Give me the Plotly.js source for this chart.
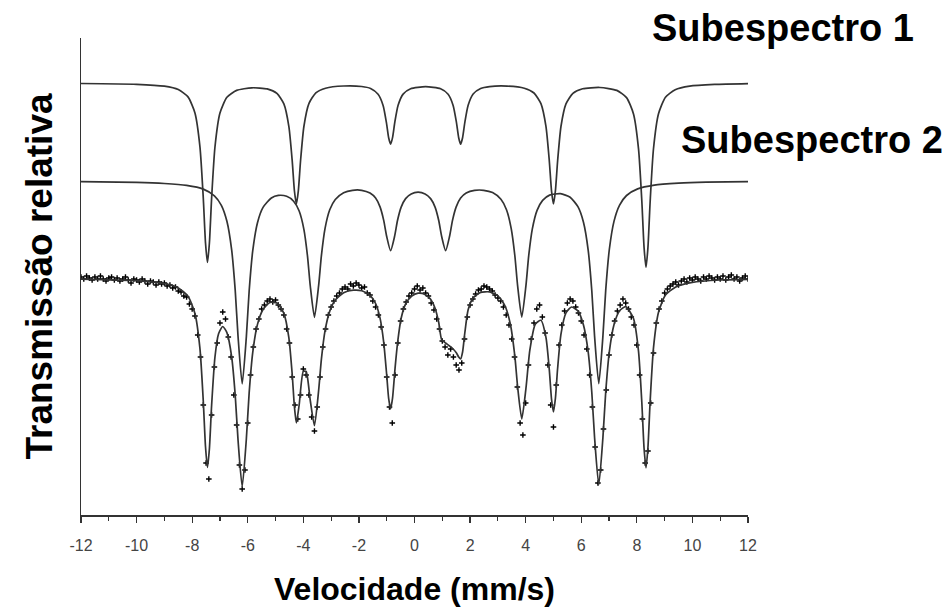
<!DOCTYPE html>
<html>
<head>
<meta charset="utf-8">
<script src="https://cdn.plot.ly/plotly-3.0.1.min.js"></script>
<style>html,body{margin:0;padding:0;background:#fff;}#chart{width:952px;height:613px;}</style>
</head>
<body>
<div id="chart"></div>
<script>
// Velocity tick labels (mm/s)
const tickVals = [-12, -10, -8, -6, -4, -2, 0, 2, 4, 6, 8, 10, 12];
const tickText = ["-12", "-10", "-8", "-6", "-4", "-2", "0", "2", "4", "6", "8", "10", "12"];
const minorTickVals = [-11, -9, -7, -5, -3, -1, 1, 3, 5, 7, 9, 11];

// Subespectro 1 (fitted sextet, offset upward)
const sub1X = [-12, -10, -9, -8.5, -8.15, -7.9, -7.72, -7.6, -7.52, -7.45, -7.38, -7.3, -7.18, -7.0, -6.75, -6.4, -5.85, -5.3, -4.95, -4.7, -4.52, -4.4, -4.32, -4.25, -4.18, -4.1, -3.98, -3.8, -3.55, -3.2, -2.55, -1.9, -1.58, -1.31, -1.13, -1.01, -0.93, -0.86, -0.79, -0.71, -0.59, -0.41, -0.14, 0.4, 0.94, 1.21, 1.39, 1.51, 1.59, 1.66, 1.73, 1.81, 1.93, 2.11, 2.38, 2.7, 3.33, 3.95, 4.3, 4.55, 4.73, 4.85, 4.93, 5.0, 5.07, 5.15, 5.27, 5.45, 5.7, 6.05, 6.67, 7.28, 7.63, 7.88, 8.06, 8.18, 8.26, 8.33, 8.4, 8.48, 8.6, 8.78, 9.03, 9.38, 9.9, 10.8, 12];
const sub1Y = [431.5, 430.7, 428.8, 425.4, 418.1, 402.1, 368.2, 317, 272, 252.5, 272, 316.9, 368, 401.9, 417.7, 424.6, 427.2, 426.1, 421.6, 411.1, 388.4, 354.1, 324, 311, 324.1, 354.2, 388.5, 411.4, 422.1, 426.8, 429, 428.5, 426.5, 420.7, 409.5, 392.3, 377.2, 370.9, 377.4, 392.5, 409.7, 420.9, 426.3, 428.4, 426.3, 420.8, 409.6, 392.4, 377.3, 370.8, 377.3, 392.4, 409.7, 421, 426.5, 428.4, 428.9, 426.8, 422, 411.3, 388.6, 354.3, 324.2, 311, 324.1, 354.2, 388.5, 411.1, 421.7, 426.2, 427.5, 424.6, 417.4, 401.1, 366.4, 313.7, 267.6, 247.5, 267.6, 313.8, 366.5, 401.2, 417.8, 425.3, 428.9, 430.6, 431.4];

// Subespectro 2 (fitted sextet, middle)
const sub2X = [-12, -10, -9, -8.2, -7.6, -7.2, -6.95, -6.75, -6.58, -6.45, -6.35, -6.2, -6.05, -5.95, -5.82, -5.65, -5.45, -5.15, -4.9, -4.6, -4.35, -4.15, -3.98, -3.85, -3.75, -3.6, -3.45, -3.35, -3.22, -3.05, -2.85, -2.55, -2.23, -1.9, -1.6, -1.4, -1.24, -1.11, -1.0, -0.86, -0.72, -0.61, -0.48, -0.32, -0.12, 0.13, 0.38, 0.58, 0.74, 0.87, 0.98, 1.12, 1.26, 1.37, 1.5, 1.66, 1.86, 2.16, 2.49, 2.81, 3.11, 3.31, 3.48, 3.61, 3.71, 3.86, 4.01, 4.11, 4.24, 4.41, 4.61, 4.86, 5.25, 5.6, 5.88, 6.08, 6.25, 6.38, 6.48, 6.63, 6.78, 6.88, 7.01, 7.18, 7.38, 7.63, 8.03, 8.63, 9.5, 10.5, 12];
const sub2Y = [333.3, 332.6, 331.5, 329.6, 325.9, 319.2, 309.7, 293.7, 265.3, 224.4, 178.9, 131.1, 178.4, 223.8, 264.3, 292.3, 307.6, 317, 319.6, 318.7, 313.8, 304, 285.7, 258.9, 229, 197.7, 229.3, 259.3, 286.4, 305.2, 315.5, 322.3, 324.7, 324.7, 321.9, 316.9, 308.1, 294.9, 278.5, 264.3, 278.2, 294.7, 307.9, 316.4, 321.1, 322.8, 321.1, 316.4, 307.9, 294.7, 278.2, 264.3, 278.5, 294.9, 308.1, 316.9, 321.9, 324.6, 324.7, 322.4, 315.7, 305.3, 286.4, 259.5, 229.4, 197.9, 229.4, 259.4, 286.1, 304.6, 314.6, 319.9, 321.3, 317.8, 308.3, 292.8, 264.7, 224, 178.6, 131.4, 179.1, 224.6, 265.5, 293.9, 309.9, 319.5, 326.1, 329.9, 331.8, 332.8, 333.3];

// Total fitted spectrum (bottom)
const fitX = [-12, -10, -9, -8.5, -8.15, -7.9, -7.72, -7.6, -7.52, -7.45, -7.38, -7.3, -7.18, -7.05, -6.9, -6.75, -6.58, -6.45, -6.35, -6.2, -6.05, -5.95, -5.82, -5.65, -5.45, -5.2, -4.95, -4.7, -4.52, -4.4, -4.32, -4.25, -4.15, -4.0, -3.9, -3.75, -3.6, -3.45, -3.35, -3.22, -3.05, -2.85, -2.55, -2.2, -1.9, -1.6, -1.4, -1.24, -1.11, -1.0, -0.93, -0.86, -0.79, -0.7, -0.6, -0.48, -0.32, -0.1, 0.13, 0.38, 0.58, 0.74, 0.87, 0.98, 1.12, 1.26, 1.39, 1.51, 1.59, 1.66, 1.73, 1.81, 1.93, 2.11, 2.38, 2.7, 3.0, 3.25, 3.45, 3.61, 3.71, 3.86, 4.01, 4.15, 4.35, 4.55, 4.73, 4.85, 4.93, 5.0, 5.07, 5.15, 5.27, 5.45, 5.65, 5.88, 6.08, 6.25, 6.38, 6.48, 6.63, 6.78, 6.88, 7.01, 7.18, 7.38, 7.6, 7.88, 8.06, 8.18, 8.26, 8.33, 8.4, 8.48, 8.6, 8.78, 9.03, 9.4, 10, 11, 12];
const fitY = [235.9, 234.3, 231.3, 227.1, 218.7, 201.5, 166.4, 113.9, 68.2, 47.6, 66.3, 109.7, 158, 181.3, 188.5, 182.4, 158.4, 119.5, 75.1, 28.3, 76.2, 121.9, 162.6, 190.6, 205.5, 212.5, 212, 201.7, 177.2, 140.5, 107.9, 92, 110, 143.7, 143.5, 114.5, 89.4, 124.3, 155.8, 184.1, 203.9, 215, 222.3, 224.8, 224.2, 219.6, 211.5, 196.9, 173.2, 139.9, 116.7, 106.2, 116.9, 146.7, 174.3, 196.8, 211, 218.8, 221.8, 220.6, 215.7, 206.7, 192.7, 175.1, 172, 169, 166, 162, 158, 156, 163, 182, 205.2, 217.1, 222.6, 223.1, 219.2, 209.5, 190.8, 158.9, 128.4, 96.1, 126.6, 164.9, 191.1, 194.7, 177.6, 145.3, 115.9, 103.1, 116.6, 146.7, 180.8, 202.1, 208, 204.1, 190, 162.9, 122.5, 77.3, 30, 77.6, 122.9, 163.2, 190.5, 204.2, 208.3, 196.5, 163.9, 112.3, 66.7, 47.1, 67.7, 114.2, 167.4, 202.7, 219.9, 228.1, 232.7, 235, 235.7];

// Measured spectrum (data points)
const dataX = [-12.0, -11.9, -11.8, -11.7, -11.6, -11.5, -11.4, -11.3, -11.2, -11.1, -11.0, -10.9, -10.8, -10.7, -10.6, -10.5, -10.4, -10.3, -10.2, -10.1, -10.0, -9.9, -9.8, -9.7, -9.6, -9.5, -9.4, -9.3, -9.2, -9.1, -9.0, -8.9, -8.8, -8.7, -8.6, -8.5, -8.4, -8.3, -8.2, -8.1, -8.0, -7.9, -7.8, -7.7, -7.6, -7.5, -7.4, -7.3, -7.2, -7.1, -7.0, -6.9, -6.8, -6.7, -6.6, -6.5, -6.4, -6.3, -6.2, -6.1, -6.0, -5.9, -5.8, -5.7, -5.6, -5.5, -5.4, -5.3, -5.2, -5.1, -5.0, -4.9, -4.8, -4.7, -4.6, -4.5, -4.4, -4.3, -4.2, -4.1, -4.0, -3.9, -3.8, -3.7, -3.6, -3.5, -3.4, -3.3, -3.2, -3.1, -3.0, -2.9, -2.8, -2.7, -2.6, -2.5, -2.4, -2.3, -2.2, -2.1, -2.0, -1.9, -1.8, -1.7, -1.6, -1.5, -1.4, -1.3, -1.2, -1.1, -1.0, -0.9, -0.8, -0.7, -0.6, -0.5, -0.4, -0.3, -0.2, -0.1, 0.0, 0.1, 0.2, 0.3, 0.4, 0.5, 0.6, 0.7, 0.8, 0.9, 1.0, 1.1, 1.2, 1.3, 1.4, 1.5, 1.6, 1.7, 1.8, 1.9, 2.0, 2.1, 2.2, 2.3, 2.4, 2.5, 2.6, 2.7, 2.8, 2.9, 3.0, 3.1, 3.2, 3.3, 3.4, 3.5, 3.6, 3.7, 3.8, 3.9, 4.0, 4.1, 4.2, 4.3, 4.4, 4.5, 4.6, 4.7, 4.8, 4.9, 5.0, 5.1, 5.2, 5.3, 5.4, 5.5, 5.6, 5.7, 5.8, 5.9, 6.0, 6.1, 6.2, 6.3, 6.4, 6.5, 6.6, 6.7, 6.8, 6.9, 7.0, 7.1, 7.2, 7.3, 7.4, 7.5, 7.6, 7.7, 7.8, 7.9, 8.0, 8.1, 8.2, 8.3, 8.4, 8.5, 8.6, 8.7, 8.8, 8.9, 9.0, 9.1, 9.2, 9.3, 9.4, 9.5, 9.6, 9.7, 9.8, 9.9, 10.0, 10.1, 10.2, 10.3, 10.4, 10.5, 10.6, 10.7, 10.8, 10.9, 11.0, 11.1, 11.2, 11.3, 11.4, 11.5, 11.6, 11.7, 11.8, 11.9, 12.0];
const dataY = [238, 236, 239, 237, 235, 238, 236, 239, 236, 234, 237, 238, 235, 237, 234, 236, 238, 235, 232, 236, 235, 233, 236, 234, 231, 234, 233, 230, 233, 231, 232, 229, 230, 227, 228, 224, 223, 219, 218, 211, 206, 199, 180, 158, 110, 52, 36, 100, 148, 172, 192, 203, 196, 178, 158, 120, 90, 50, 26, 45, 92, 140, 168, 186, 196, 206, 210, 214, 216, 213, 215, 210, 206, 200, 186, 172, 138, 110, 96, 120, 146, 140, 120, 98, 84, 108, 138, 168, 186, 200, 208, 214, 219, 222, 226, 228, 226, 231, 229, 232, 230, 227, 228, 222, 220, 214, 208, 200, 188, 170, 138, 108, 92, 140, 172, 194, 206, 213, 219, 222, 226, 229, 225, 227, 222, 219, 212, 205, 196, 186, 174, 168, 160, 166, 158, 150, 145, 152, 176, 198, 210, 216, 221, 225, 226, 229, 228, 226, 224, 220, 217, 214, 208, 200, 190, 176, 158, 128, 92, 80, 112, 150, 176, 192, 206, 210, 198, 182, 150, 110, 88, 130, 170, 190, 204, 212, 216, 214, 208, 202, 194, 180, 166, 140, 108, 68, 32, 45, 86, 125, 160, 180, 194, 204, 210, 216, 212, 206, 198, 190, 170, 140, 96, 52, 64, 112, 162, 192, 206, 214, 222, 226, 229, 231, 233, 230, 234, 236, 233, 237, 235, 238, 236, 234, 238, 236, 239, 237, 235, 238, 236, 239, 235, 238, 240, 236, 238, 234, 237, 239, 236];

const lineColor = '#333333';
const traces = [
  {x: sub1X, y: sub1Y, type: 'scatter', mode: 'lines', name: 'Subespectro 1',
   line: {color: lineColor, width: 1.7, shape: 'spline', smoothing: 0.6}},
  {x: sub2X, y: sub2Y, type: 'scatter', mode: 'lines', name: 'Subespectro 2',
   line: {color: lineColor, width: 1.7, shape: 'spline', smoothing: 0.6}},
  {x: dataX, y: dataY, type: 'scatter', mode: 'markers', name: 'Dados',
   marker: {symbol: 'cross-thin', size: 4, color: '#000', line: {color: '#000', width: 1.4}}},
  {x: fitX, y: fitY, type: 'scatter', mode: 'lines', name: 'Ajuste',
   line: {color: lineColor, width: 1.7, shape: 'spline', smoothing: 0.6}}
];

const boldFont = 'Liberation Sans, Arial, Helvetica, sans-serif';
const layout = {
  width: 952, height: 613,
  margin: {l: 81, r: 204, t: 38, b: 98, pad: 0},
  paper_bgcolor: '#ffffff', plot_bgcolor: '#ffffff',
  showlegend: false,
  font: {family: boldFont, color: '#000'},
  xaxis: {
    range: [-12, 12], tickmode: 'array', tickvals: tickVals, ticktext: tickText,
    ticks: 'outside', ticklen: 6, tickwidth: 1.2, tickcolor: '#333',
    minor: {tickmode: 'array', tickvals: minorTickVals, ticks: 'outside', ticklen: 4, tickwidth: 1.2, tickcolor: '#333', showgrid: false},
    showline: true, linecolor: '#333', linewidth: 1.5,
    showgrid: false, zeroline: false, fixedrange: true,
    tickfont: {size: 16, color: '#444', family: boldFont},
    ticklabelstandoff: 9,
    title: {text: 'Velocidade (mm/s)', font: {size: 32, color: '#000', family: boldFont, weight: 700}, standoff: 25}
  },
  yaxis: {
    range: [0, 477], showline: true, linecolor: '#333', linewidth: 1.5,
    ticks: '', showticklabels: false, showgrid: false, zeroline: false, fixedrange: true,
    title: {text: 'Transmissão relativa', font: {size: 37, color: '#000', family: boldFont, weight: 700}, standoff: 15}
  },
  annotations: [
    {text: 'Subespectro 1', xref: 'paper', yref: 'paper', x: 1.053, y: 1.021, xanchor: 'center', yanchor: 'middle',
     showarrow: false, font: {size: 38, color: '#000', family: boldFont, weight: 700}},
    {text: 'Subespectro 2', xref: 'paper', yref: 'paper', x: 1.0967, y: 0.786, xanchor: 'center', yanchor: 'middle',
     showarrow: false, font: {size: 38, color: '#000', family: boldFont, weight: 700}}
  ]
};

Plotly.newPlot('chart', traces, layout, {displayModeBar: false, staticPlot: true});
</script>
</body>
</html>
